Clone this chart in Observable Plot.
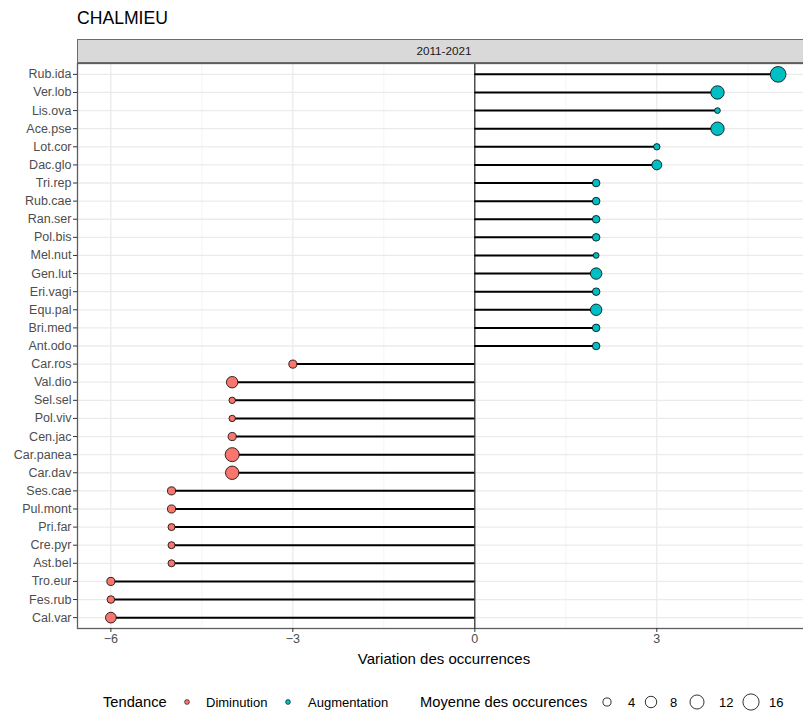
<!DOCTYPE html>
<html>
<head>
<meta charset="utf-8">
<script src="https://cdn.jsdelivr.net/npm/d3@7"></script>
<script src="https://cdn.jsdelivr.net/npm/@observablehq/plot@0.6"></script>
<style>
  html, body { margin: 0; padding: 0; background: white; overflow: hidden; }
  #wrap { position: relative; width: 803px; height: 711px; overflow: hidden; font-family: "Liberation Sans", Arial, sans-serif; }
  #title { position: absolute; left: 77px; top: 8px; font-size: 17.6px; color: #000; }
  #strip { position: absolute; left: 77px; top: 39px; width: 734px; height: 24px; background: #D9D9D9; border: 1.3px solid #6b6b6b; box-sizing: border-box; text-align: center; font-size: 11.7px; line-height: 22px; color: #1A1A1A; z-index: 2; }
  #chart { position: absolute; left: 0; top: 39px; }
  #xtitle { position: absolute; left: 0; width: 888px; top: 650px; text-align: center; font-size: 15px; color: #000; }
  #legend { position: absolute; left: 0; top: 688px; }
</style>
</head>
<body>
<div id="wrap">
  <div id="chart"></div>
  <div id="title">CHALMIEU</div>
  <div id="strip">2011-2021</div>
  <div id="xtitle">Variation des occurrences</div>
  <div id="legend"></div>
</div>
<script>
const species = ["Rub.ida","Ver.lob","Lis.ova","Ace.pse","Lot.cor","Dac.glo","Tri.rep","Rub.cae","Ran.ser","Pol.bis","Mel.nut","Gen.lut","Eri.vagi","Equ.pal","Bri.med","Ant.odo","Car.ros","Val.dio","Sel.sel","Pol.viv","Cen.jac","Car.panea","Car.dav","Ses.cae","Pul.mont","Pri.far","Cre.pyr","Ast.bel","Tro.eur","Fes.rub","Cal.var"];
const variation = [5,4,4,4,3,3,2,2,2,2,2,2,2,2,2,2,-3,-4,-4,-4,-4,-4,-4,-5,-5,-5,-5,-5,-6,-6,-6];
const moyenne = [15,11,2,11,2.5,6,3.5,3.5,3.5,3.5,2,8,3.5,8,3.5,3.5,4,8,2.5,2.5,4,12,11,4,4,3,3,3,4,3.5,7];
const tendances = ["Diminution","Augmentation"];
const tendanceColors = ["#F8766D","#00BFC4"];
const sizeBreaks = [4,8,12,16];
const xTicks = [-6,-3,0,3];
const xMinor = [-4.5,-1.5,1.5,4.5];

const data = species.map((s,i) => ({sp: s, v: variation[i], m: moyenne[i], t: variation[i] < 0 ? tendances[0] : tendances[1]}));

const rDomain = [0, 18], rRange = [0, 8.6];

const chart = Plot.plot({
  width: 811, height: 641,
  marginTop: 24, marginBottom: 52, marginLeft: 77, marginRight: 0,
  style: {fontFamily: "'Liberation Sans', Arial, sans-serif", background: "transparent", maxWidth: "none"},
  x: {domain: [-6.55, 5.55], label: null},
  y: {type: "point", domain: species, padding: 0.6, round: false, label: null},
  r: {type: "sqrt", domain: rDomain, range: rRange},
  color: {domain: tendances, range: tendanceColors},
  marks: [
    Plot.gridX(xMinor, {stroke: "#F2F2F2", strokeOpacity: 1, strokeWidth: 0.8}),
    Plot.gridX(xTicks, {stroke: "#EBEBEB", strokeOpacity: 1, strokeWidth: 1.3}),
    Plot.gridY(species, {stroke: "#EBEBEB", strokeOpacity: 1, strokeWidth: 1.3}),
    Plot.ruleX([0], {stroke: "#000", strokeWidth: 1}),
    Plot.ruleY(data, {y: "sp", x1: 0, x2: "v", stroke: "#000", strokeWidth: 2}),
    Plot.dot(data, {x: "v", y: "sp", r: "m", fill: "t", stroke: "#000", strokeWidth: 0.8}),
    Plot.frame({stroke: "#5e5e5e", strokeWidth: 1.3}),
    Plot.axisY(species, {tickSize: 4, tickPadding: 2, fontSize: 12.5, fill: "#4D4D4D", stroke: "#333", label: null}),
    Plot.axisX(xTicks, {tickSize: 4, tickPadding: 2, fontSize: 12.5, fill: "#4D4D4D", stroke: "#333", label: null})
  ]
});
document.getElementById("chart").appendChild(chart);

// Legend
const rs = d3.scaleSqrt().domain(rDomain).range(rRange);
const lg = d3.select("#legend").append("svg").attr("width", 803).attr("height", 24)
  .style("font-family", "'Liberation Sans', Arial, sans-serif");
const cy = 14;
lg.append("text").attr("x", 103).attr("y", cy).attr("dy", "0.35em").attr("font-size", 14.7).text("Tendance");
const tPos = [{dot: 187, lab: 206}, {dot: 288, lab: 308}];
tendances.forEach((t, i) => {
  lg.append("circle").attr("cx", tPos[i].dot).attr("cy", cy).attr("r", 2.4)
    .attr("fill", tendanceColors[i]).attr("stroke", "#000").attr("stroke-width", 0.6);
  lg.append("text").attr("x", tPos[i].lab).attr("y", cy).attr("dy", "0.35em").attr("font-size", 13).text(t);
});
lg.append("text").attr("x", 420).attr("y", cy).attr("dy", "0.35em").attr("font-size", 14.7).text("Moyenne des occurences");
const sPos = [{c: 607, l: 628}, {c: 651, l: 670}, {c: 697, l: 719}, {c: 751, l: 769}];
sizeBreaks.forEach((b, i) => {
  lg.append("circle").attr("cx", sPos[i].c).attr("cy", cy).attr("r", rs(b))
    .attr("fill", "none").attr("stroke", "#000").attr("stroke-width", 0.8);
  lg.append("text").attr("x", sPos[i].l).attr("y", cy).attr("dy", "0.35em").attr("font-size", 13).text(b);
});
</script>
</body>
</html>
